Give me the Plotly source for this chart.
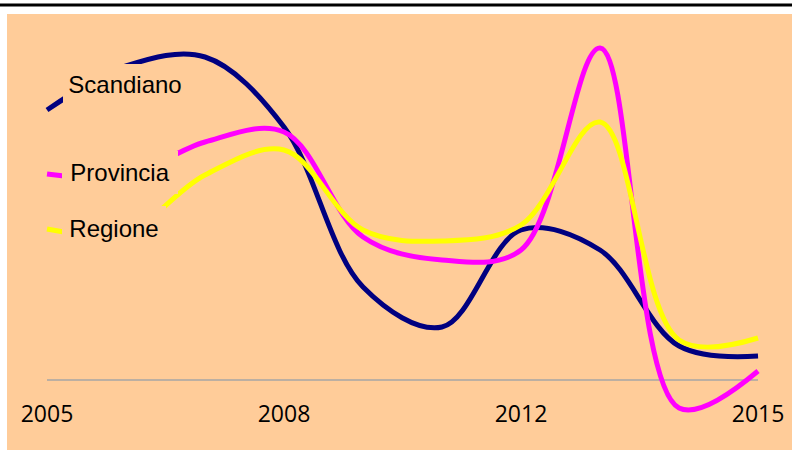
import plotly.graph_objects as go

categories = ["2005", "2006", "2007", "2008", "2009", "2010", "2012", "2013", "2014", "2015"]
tick_labels = ["2005", "2008", "2012", "2015"]

scandiano = [8.10, 9.42, 9.69, 7.59, 2.79, 1.59, 4.50, 3.90, 1.02, 0.72]
provincia = [6.18, 6.12, 7.14, 7.44, 4.29, 3.60, 3.90, 9.96, -0.84, 0.27]
regione = [4.53, 4.44, 6.15, 6.90, 4.50, 4.17, 4.65, 7.74, 1.20, 1.26]

series_names = ["Scandiano", "Provincia", "Regione"]
series_colors = ["#000080", "#FF00FF", "#FFFF00"]

PEACH = "#FFCC99"
W, H = 792, 450

fig = go.Figure()
for name, vals, col in zip(series_names, [scandiano, provincia, regione], series_colors):
    fig.add_trace(go.Scatter(
        x=categories, y=vals, name=name, mode="lines",
        line=dict(color=col, width=5, shape="spline", smoothing=1.0),
        showlegend=False, hoverinfo="skip",
    ))

# label boxes (px geometry): (center_x, center_y, width, height)
label_boxes = {
    "Scandiano": (125, 84, 124, 40),
    "Provincia": (120, 173, 116, 43),
    "Regione": (114, 228, 104, 44),
}
annotations = []
for name in series_names:
    cx, cy, bw, bh = label_boxes[name]
    annotations.append(dict(
        text=name, xref="paper", yref="paper",
        x=cx / W, y=1 - cy / H, xanchor="center", yanchor="middle",
        width=bw, height=bh, bgcolor=PEACH, borderpad=0, borderwidth=0,
        showarrow=False, align="center", valign="middle",
        font=dict(family="Liberation Sans, Arial", size=24, color="#000000"),
    ))

shapes = [
    dict(type="rect", xref="paper", yref="paper", x0=7 / W, x1=1, y0=0, y1=1 - 14 / H,
         fillcolor=PEACH, line=dict(width=0), layer="below"),
    dict(type="line", xref="paper", yref="paper", x0=0, x1=1, y0=1 - 5 / H, y1=1 - 5 / H,
         line=dict(color="#000000", width=3), layer="above"),
    # zero baseline spanning first to last category (by category index)
    dict(type="line", xref="x", yref="y", x0=0, x1=len(categories) - 1, y0=0, y1=0,
         line=dict(color="#A6A6A6", width=1.5), layer="below"),
]

fig.update_layout(
    width=W, height=H,
    margin=dict(l=0, r=0, t=0, b=0),
    paper_bgcolor="#FFFFFF",
    plot_bgcolor="rgba(0,0,0,0)",
    shapes=shapes,
    annotations=annotations,
    xaxis=dict(
        type="category", range=[-0.595, 9.43],
        anchor="free", position=70 / H,
        showline=False, showgrid=False, zeroline=False,
        ticks="", tickmode="array", tickvals=tick_labels, ticktext=tick_labels,
        ticklabelstandoff=18,
        tickfont=dict(family="Open Sans", size=23, color="#000000"),
    ),
    yaxis=dict(range=[-2.1, 11.4], visible=False, domain=[0, 1]),
)

fig.write_html(
    "out.html",
    config={"displayModeBar": False, "staticPlot": True},
    post_script="document.body.style.margin='0';document.body.style.overflow='hidden';",
)
